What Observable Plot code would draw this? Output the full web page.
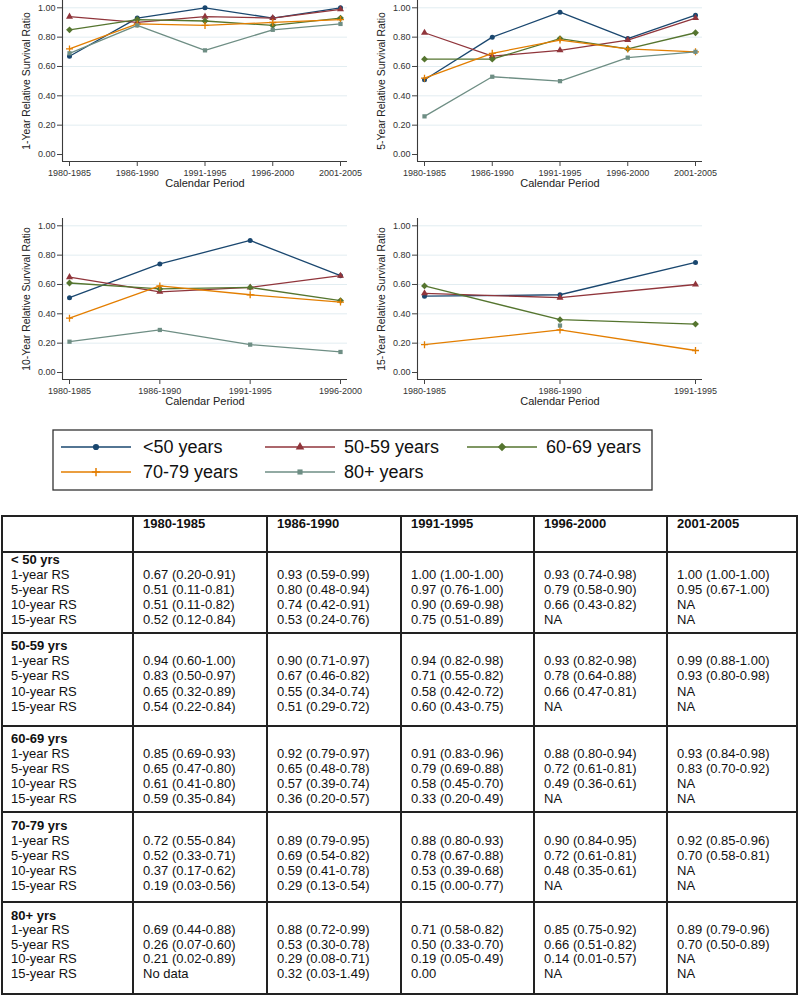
<!DOCTYPE html>
<html><head><meta charset="utf-8">
<script src="https://cdn.jsdelivr.net/npm/d3@7"></script>
<script src="https://cdn.jsdelivr.net/npm/@observablehq/plot@0.6"></script>
<style>
body{margin:0;background:#fff;font-family:"Liberation Sans",Arial,sans-serif;}
#root{position:relative;width:800px;height:995px;overflow:hidden;background:#fff;}
.panel{position:absolute;}
.panel svg{overflow:visible;}
.tl{position:absolute;height:15px;line-height:15px;font-size:13px;color:#111;white-space:nowrap;}
.hb{position:absolute;background:#222;}
</style></head>
<body><div id="root"></div>
<script>
// ---------- data ----------
const periods = ["1980-1985", "1986-1990", "1991-1995", "1996-2000", "2001-2005"];
const groups = ["<50 years", "50-59 years", "60-69 years", "70-79 years", "80+ years"];
const panelLabels = ["1-Year Relative Survival Ratio", "5-Year Relative Survival Ratio", "10-Year Relative Survival Ratio", "15-Year Relative Survival Ratio"];
const xTitle = "Calendar Period";
const yTicks = [0, 0.2, 0.4, 0.6, 0.8, 1.0];

// relative survival ratios (rows = age groups, cols = periods); null = not plotted
const rs1 = [
  [0.67, 0.93, 1.00, 0.93, 1.00],
  [0.94, 0.90, 0.94, 0.93, 0.99],
  [0.85, 0.92, 0.91, 0.88, 0.93],
  [0.72, 0.89, 0.88, 0.90, 0.92],
  [0.69, 0.88, 0.71, 0.85, 0.89]
];
const rs5 = [
  [0.51, 0.80, 0.97, 0.79, 0.95],
  [0.83, 0.67, 0.71, 0.78, 0.93],
  [0.65, 0.65, 0.79, 0.72, 0.83],
  [0.52, 0.69, 0.78, 0.72, 0.70],
  [0.26, 0.53, 0.50, 0.66, 0.70]
];
const rs10 = [
  [0.51, 0.74, 0.90, 0.66],
  [0.65, 0.55, 0.58, 0.66],
  [0.61, 0.57, 0.58, 0.49],
  [0.37, 0.59, 0.53, 0.48],
  [0.21, 0.29, 0.19, 0.14]
];
const rs15 = [
  [0.52, 0.53, 0.75],
  [0.54, 0.51, 0.60],
  [0.59, 0.36, 0.33],
  [0.19, 0.29, 0.15],
  [null, 0.32, null]
];

// table text
const tableGroups = ["< 50 yrs", "50-59 yrs", "60-69 yrs", "70-79 yrs", "80+ yrs"];
const tableRowLabels = ["1-year RS", "5-year RS", "10-year RS", "15-year RS"];
const tblLt50 = [
  ["0.67 (0.20-0.91)", "0.93 (0.59-0.99)", "1.00 (1.00-1.00)", "0.93 (0.74-0.98)", "1.00 (1.00-1.00)"],
  ["0.51 (0.11-0.81)", "0.80 (0.48-0.94)", "0.97 (0.76-1.00)", "0.79 (0.58-0.90)", "0.95 (0.67-1.00)"],
  ["0.51 (0.11-0.82)", "0.74 (0.42-0.91)", "0.90 (0.69-0.98)", "0.66 (0.43-0.82)", "NA"],
  ["0.52 (0.12-0.84)", "0.53 (0.24-0.76)", "0.75 (0.51-0.89)", "NA", "NA"]
];
const tbl5059 = [
  ["0.94 (0.60-1.00)", "0.90 (0.71-0.97)", "0.94 (0.82-0.98)", "0.93 (0.82-0.98)", "0.99 (0.88-1.00)"],
  ["0.83 (0.50-0.97)", "0.67 (0.46-0.82)", "0.71 (0.55-0.82)", "0.78 (0.64-0.88)", "0.93 (0.80-0.98)"],
  ["0.65 (0.32-0.89)", "0.55 (0.34-0.74)", "0.58 (0.42-0.72)", "0.66 (0.47-0.81)", "NA"],
  ["0.54 (0.22-0.84)", "0.51 (0.29-0.72)", "0.60 (0.43-0.75)", "NA", "NA"]
];
const tbl6069 = [
  ["0.85 (0.69-0.93)", "0.92 (0.79-0.97)", "0.91 (0.83-0.96)", "0.88 (0.80-0.94)", "0.93 (0.84-0.98)"],
  ["0.65 (0.47-0.80)", "0.65 (0.48-0.78)", "0.79 (0.69-0.88)", "0.72 (0.61-0.81)", "0.83 (0.70-0.92)"],
  ["0.61 (0.41-0.80)", "0.57 (0.39-0.74)", "0.58 (0.45-0.70)", "0.49 (0.36-0.61)", "NA"],
  ["0.59 (0.35-0.84)", "0.36 (0.20-0.57)", "0.33 (0.20-0.49)", "NA", "NA"]
];
const tbl7079 = [
  ["0.72 (0.55-0.84)", "0.89 (0.79-0.95)", "0.88 (0.80-0.93)", "0.90 (0.84-0.95)", "0.92 (0.85-0.96)"],
  ["0.52 (0.33-0.71)", "0.69 (0.54-0.82)", "0.78 (0.67-0.88)", "0.72 (0.61-0.81)", "0.70 (0.58-0.81)"],
  ["0.37 (0.17-0.62)", "0.59 (0.41-0.78)", "0.53 (0.39-0.68)", "0.48 (0.35-0.61)", "NA"],
  ["0.19 (0.03-0.56)", "0.29 (0.13-0.54)", "0.15 (0.00-0.77)", "NA", "NA"]
];
const tbl80 = [
  ["0.69 (0.44-0.88)", "0.88 (0.72-0.99)", "0.71 (0.58-0.82)", "0.85 (0.75-0.92)", "0.89 (0.79-0.96)"],
  ["0.26 (0.07-0.60)", "0.53 (0.30-0.78)", "0.50 (0.33-0.70)", "0.66 (0.51-0.82)", "0.70 (0.50-0.89)"],
  ["0.21 (0.02-0.89)", "0.29 (0.08-0.71)", "0.19 (0.05-0.49)", "0.14 (0.01-0.57)", "NA"],
  ["No data", "0.32 (0.03-1.49)", "0.00", "NA", "NA"]
];

// ---------- styles ----------
const colors = ["#1a476f", "#90353b", "#55752f", "#e37e00", "#6e8e84"];
const diamondSym = {draw(ctx, size) { const r = Math.sqrt(size / 2) * 1.05; ctx.moveTo(0, -r); ctx.lineTo(r, 0); ctx.lineTo(0, r); ctx.lineTo(-r, 0); ctx.closePath(); }};
const plusSym = {draw(ctx, size) { const r = Math.sqrt(size / Math.PI) * 1.25; ctx.moveTo(-r, 0); ctx.lineTo(r, 0); ctx.moveTo(0, -r); ctx.lineTo(0, r); }};
const plotSymbols = ["circle", "triangle", diamondSym, plusSym, "square"];
const symR = [2.5, 2.6, 2.6, 2.8, 2.4];
const font = "'Liberation Sans', Arial, sans-serif";

const root = document.getElementById("root");

function panel(values, label, left, top) {
  const n = values[0].length;
  const per = periods.slice(0, n);
  const pad = 7 * (n - 1) / 271;
  const yDom = [-0.0477, 1.0498];
  const marks = [
    Plot.gridY(yTicks.slice(1), {stroke: "#e2edf1", strokeOpacity: 1, strokeWidth: 1}),
    Plot.ruleY([yDom[0]], {stroke: "#3a3a3a", strokeWidth: 1.1}),
    Plot.ruleX([-pad], {stroke: "#3a3a3a", strokeWidth: 1.1}),
    Plot.axisY(yTicks, {tickFormat: d => d.toFixed(2), tickSize: 5, tickPadding: 2, label: null, stroke: "#444", fill: "#333"}),
    Plot.axisX(d3.range(n), {tickFormat: i => per[i], tickSize: 5, tickPadding: 3, label: null, stroke: "#444", fill: "#333"}),
    Plot.text([label], {frameAnchor: "left", textAnchor: "middle", lineAnchor: "middle", rotate: -90, dx: -36, fontSize: 10.4, fill: "#222"}),
    Plot.text([xTitle], {frameAnchor: "bottom", textAnchor: "middle", lineAnchor: "middle", dy: 22, fontSize: 11, fill: "#222"})
  ];
  groups.forEach((g, gi) => {
    const d = per.map((p, pi) => ({pi, v: values[gi][pi]}));
    marks.push(Plot.line(d, {x: "pi", y: "v", stroke: colors[gi], strokeWidth: 1.3}));
    const isPlus = gi === 3;
    marks.push(Plot.dot(d.filter(r => r.v != null), {
      x: "pi", y: "v", symbol: plotSymbols[gi], r: symR[gi],
      fill: isPlus ? "none" : colors[gi], stroke: isPlus ? colors[gi] : "none", strokeWidth: isPlus ? 1.3 : 0
    }));
  });
  const p = Plot.plot({
    width: 400, height: 196,
    marginLeft: 62, marginRight: 53, marginTop: 0, marginBottom: 35,
    x: {type: "linear", domain: [-pad, n - 1 + pad]},
    y: {type: "linear", domain: yDom},
    style: {fontFamily: font, fontSize: "9px", background: "transparent", overflow: "visible"},
    marks
  });
  const div = document.createElement("div");
  div.className = "panel";
  div.style.left = left + "px";
  div.style.top = top + "px";
  div.appendChild(p);
  root.appendChild(div);
}

panel(rs1, panelLabels[0], 0, 0);
panel(rs5, panelLabels[1], 355, 0);
panel(rs10, panelLabels[2], 0, 218);
panel(rs15, panelLabels[3], 355, 218);

// ---------- legend ----------
(function legend() {
  const svg = d3.select(root).append("svg")
    .attr("width", 800).attr("height", 70)
    .style("position", "absolute").style("left", "0px").style("top", "425px");
  svg.append("rect").attr("x", 53).attr("y", 5).attr("width", 599).attr("height", 60)
    .attr("fill", "none").attr("stroke", "#333").attr("stroke-width", 1.3);
  const lineX = [61, 265, 467], textX = [143, 344, 546], rowY = [22, 47];
  const d3sym = [d3.symbolCircle, d3.symbolTriangle, diamondSym, plusSym, d3.symbolSquare];
  const legR = [3.1, 3.2, 3.2, 3.3, 2.9];
  groups.forEach((g, i) => {
    const col = i % 3, row = Math.floor(i / 3);
    const y = rowY[row], x0 = lineX[col];
    svg.append("line").attr("x1", x0).attr("x2", x0 + 70).attr("y1", y).attr("y2", y)
      .attr("stroke", colors[i]).attr("stroke-width", 1.5);
    const path = d3.symbol(d3sym[i], Math.PI * legR[i] * legR[i])();
    svg.append("path").attr("d", path).attr("transform", `translate(${x0 + 35},${y})`)
      .attr("fill", i === 3 ? "none" : colors[i]).attr("stroke", i === 3 ? colors[i] : "none").attr("stroke-width", 1.5);
    svg.append("text").attr("x", textX[col]).attr("y", y).attr("dy", "0.36em")
      .attr("font-family", font).attr("font-size", 18).attr("fill", "#111").text(g);
  });
})();

// ---------- table ----------
(function table() {
  const colX = [2, 133, 267, 401, 534, 667, 797];
  const rowY = [516, 552, 633, 726, 812, 902, 994];
  const firstOff = [7, 12, 12, 13, 13];
  const lineStep = [15.2, 15.4, 15, 15, 14.5];
  const groupTables = [tblLt50, tbl5059, tbl6069, tbl7079, tbl80];
  const bw = 1.6;
  colX.forEach(x => {
    const d = document.createElement("div");
    d.className = "hb";
    Object.assign(d.style, {left: (x - bw / 2) + "px", top: (rowY[0] - bw / 2) + "px", width: bw + "px", height: (rowY[rowY.length - 1] - rowY[0] + bw) + "px"});
    root.appendChild(d);
  });
  rowY.forEach(y => {
    const d = document.createElement("div");
    d.className = "hb";
    Object.assign(d.style, {left: (colX[0] - bw / 2) + "px", top: (y - bw / 2) + "px", width: (colX[colX.length - 1] - colX[0] + bw) + "px", height: bw + "px"});
    root.appendChild(d);
  });
  function txt(s, x, cy, bold) {
    const d = document.createElement("div");
    d.className = "tl";
    d.textContent = s;
    d.style.left = x + "px";
    d.style.top = (cy - 7.5) + "px";
    if (bold) d.style.fontWeight = "bold";
    root.appendChild(d);
  }
  periods.forEach((p, i) => txt(p, colX[i + 1] + 10, 523, true));
  tableGroups.forEach((g, gi) => {
    const top = rowY[gi + 1];
    const c0 = top + firstOff[gi];
    txt(g, 11, c0, true);
    tableRowLabels.forEach((lab, ri) => {
      const cy = c0 + lineStep[gi] * (ri + 1);
      txt(lab, 11, cy, false);
      groupTables[gi][ri].forEach((v, ci) => txt(v, colX[ci + 1] + 10, cy, false));
    });
  });
})();
</script>
</body></html>
